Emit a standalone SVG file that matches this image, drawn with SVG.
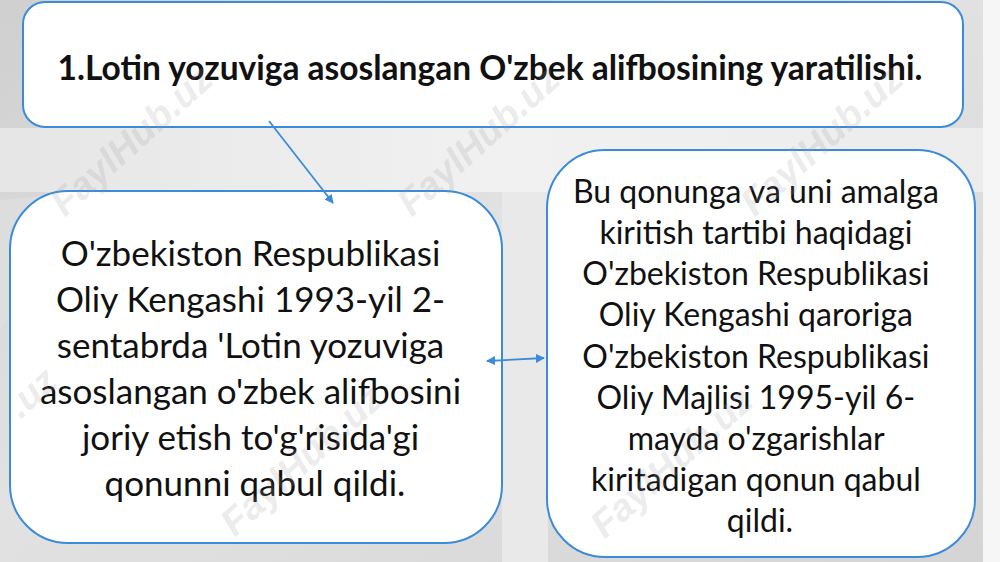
<svg xmlns="http://www.w3.org/2000/svg" width="1000" height="562" viewBox="0 0 1000 562">
  <defs>
    <linearGradient id="bgGrad" x1="0" y1="0" x2="1" y2="1">
      <stop offset="0" stop-color="#cfcfcf"/>
      <stop offset="0.45" stop-color="#e2e2e2"/>
      <stop offset="1" stop-color="#d4d4d4"/>
    </linearGradient>
    <linearGradient id="bandGrad" x1="0" y1="0" x2="1" y2="0">
      <stop offset="0" stop-color="#e6e6e6"/>
      <stop offset="0.5" stop-color="#f1f1f1"/>
      <stop offset="1" stop-color="#ececec"/>
    </linearGradient>
    <marker id="arrowEnd" viewBox="0 0 10 10" refX="9" refY="5" markerWidth="5" markerHeight="5" orient="auto-start-reverse" markerUnits="strokeWidth">
      <path d="M0,0 L10,5 L0,10 z" fill="#3b8bd8"/>
    </marker>
    <style>
      .box { fill: #ffffff; stroke: #3b8bd8; stroke-width: 2; }
      .title { font-family: Lato, "Liberation Sans", sans-serif; font-weight: bold; font-size: 33.5px; fill: #111111; text-anchor: middle; }
      .body { font-family: Lato, "Liberation Sans", sans-serif; fill: #111111; text-anchor: middle; }
      .conn { stroke: #3b8bd8; stroke-width: 1.8; fill: none; }
      .wm { font-family: "Liberation Sans", sans-serif; font-weight: bold; font-style: italic; font-size: 38px; fill: #9a9a9a; fill-opacity: 0.2; text-anchor: middle; }
    </style>
  </defs>

  <!-- background -->
  <rect x="0" y="0" width="1000" height="562" fill="url(#bgGrad)"/>
  <polygon points="0,128 1000,128 1000,192 0,192" fill="url(#bandGrad)"/>
  <polygon points="0,200 90,192 0,330" fill="#e0e0e0" fill-opacity="0.7"/>
  <polygon points="502,192 548,192 548,562 502,562" fill="#e9e9e9"/>
  <polygon points="983,0 1000,0 1000,562 983,562" fill="#f6f6f6"/>

  <!-- top node -->
  <g id="node-title">
    <rect class="box" x="23" y="2" width="940" height="125" rx="22" ry="22"/>
    <text class="title" x="490" y="80">1.Lotin yozuviga asoslangan O'zbek alifbosining yaratilishi.</text>
  </g>

  <!-- left node -->
  <g id="node-left">
    <rect class="box" x="10" y="191" width="492" height="352" rx="58" ry="58"/>
    <text class="body" font-size="35" x="255">
      <tspan x="255" y="266">O'zbekiston Respublikasi</tspan>
      <tspan x="255" y="312">Oliy Kengashi 1993-yil 2-</tspan>
      <tspan x="255" y="358">sentabrda 'Lotin yozuviga</tspan>
      <tspan x="255" y="404">asoslangan o'zbek alifbosini</tspan>
      <tspan x="255" y="450">joriy etish to'g'risida'gi</tspan>
      <tspan x="255" y="496">qonunni qabul qildi.</tspan>
    </text>
  </g>

  <!-- right node -->
  <g id="node-right">
    <rect class="box" x="547" y="150" width="428" height="407" rx="58" ry="58"/>
    <text class="body" font-size="32" x="760">
      <tspan x="760" y="203">Bu qonunga va uni amalga</tspan>
      <tspan x="760" y="244">kiritish tartibi haqidagi</tspan>
      <tspan x="760" y="285">O'zbekiston Respublikasi</tspan>
      <tspan x="760" y="326">Oliy Kengashi qaroriga</tspan>
      <tspan x="760" y="368">O'zbekiston Respublikasi</tspan>
      <tspan x="760" y="409">Oliy Majlisi 1995-yil 6-</tspan>
      <tspan x="760" y="450">mayda o'zgarishlar</tspan>
      <tspan x="760" y="491">kiritadigan qonun qabul</tspan>
      <tspan x="760" y="532">qildi.</tspan>
    </text>
  </g>

  <!-- connectors -->
  <g id="connectors">
    <line class="conn" x1="269" y1="121" x2="333" y2="203" marker-end="url(#arrowEnd)"/>
    <line class="conn" x1="487" y1="361" x2="544" y2="358" marker-start="url(#arrowEnd)" marker-end="url(#arrowEnd)"/>
  </g>

  <!-- watermarks -->
  <g id="watermarks">
    <text class="wm" transform="translate(140,150) rotate(-42)">FaylHub.uz</text>
    <text class="wm" transform="translate(487,150) rotate(-42)">FaylHub.uz</text>
    <text class="wm" transform="translate(830,150) rotate(-42)">FaylHub.uz</text>
    <text class="wm" transform="translate(40,402) rotate(-42)">.uz</text>
    <text class="wm" transform="translate(310,470) rotate(-42)">FaylHub.uz</text>
    <text class="wm" transform="translate(680,472) rotate(-42)">FaylHub.uz</text>
  </g>
</svg>
